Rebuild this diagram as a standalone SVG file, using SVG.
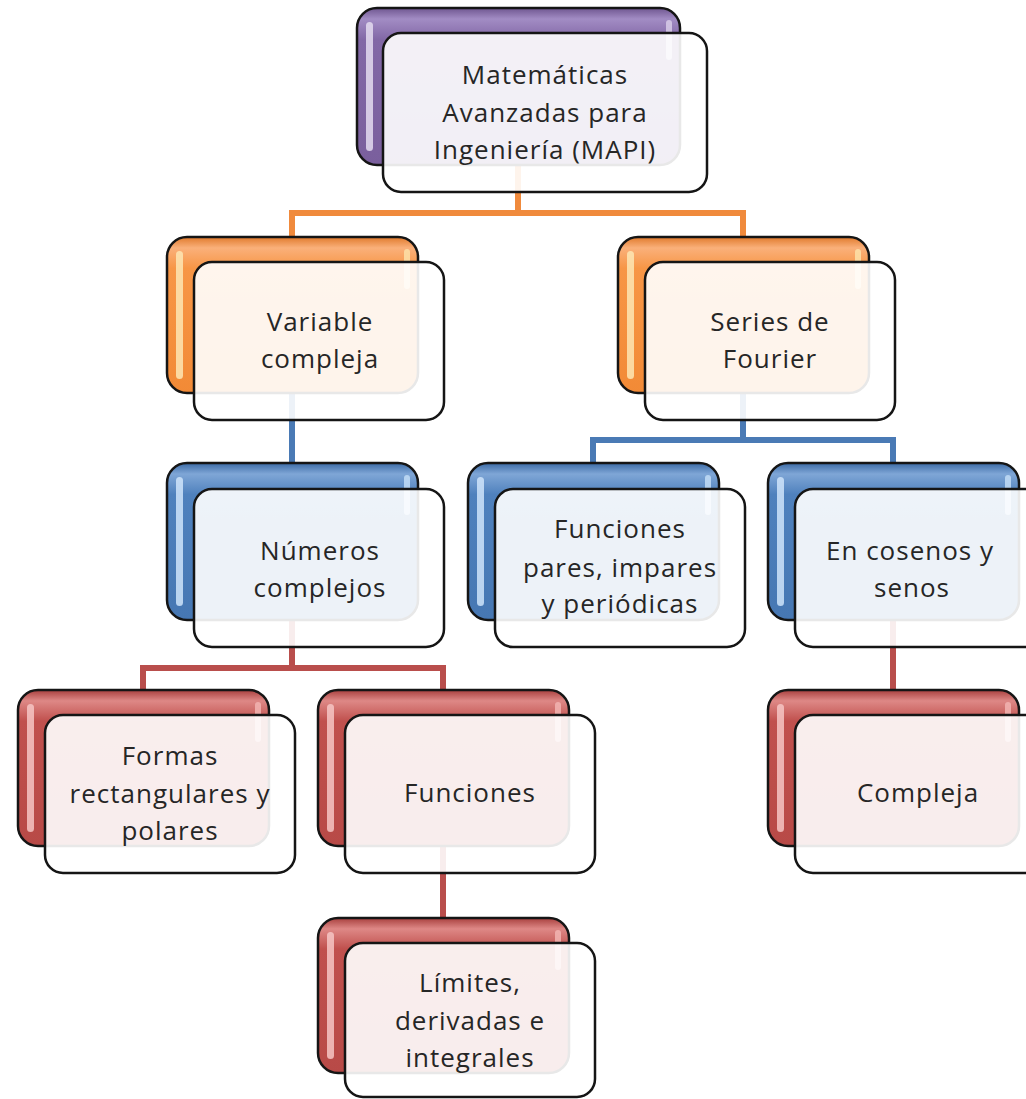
<svg xmlns="http://www.w3.org/2000/svg" width="1026" height="1099" viewBox="0 0 1026 1099">
<defs>
<linearGradient id="gPurple" x1="0" y1="0" x2="0" y2="1">
<stop offset="0" stop-color="#6f5690"/><stop offset="0.07" stop-color="#a28cc4"/><stop offset="0.2" stop-color="#8268a6"/><stop offset="1" stop-color="#7a5f9d"/>
</linearGradient>
<linearGradient id="gOrange" x1="0" y1="0" x2="0" y2="1">
<stop offset="0" stop-color="#e07a2c"/><stop offset="0.07" stop-color="#fab07a"/><stop offset="0.2" stop-color="#f79646"/><stop offset="1" stop-color="#f28a36"/>
</linearGradient>
<linearGradient id="gBlue" x1="0" y1="0" x2="0" y2="1">
<stop offset="0" stop-color="#3b6aa5"/><stop offset="0.07" stop-color="#7fa6d6"/><stop offset="0.2" stop-color="#4f81bd"/><stop offset="1" stop-color="#4677b3"/>
</linearGradient>
<linearGradient id="gRed" x1="0" y1="0" x2="0" y2="1">
<stop offset="0" stop-color="#a8403e"/><stop offset="0.07" stop-color="#de8886"/><stop offset="0.2" stop-color="#c0504d"/><stop offset="1" stop-color="#b84a47"/>
</linearGradient>
<style>
.back{stroke:#151515;stroke-width:2.5}
.front{fill:#ffffff;fill-opacity:0.9;stroke:#151515;stroke-width:2.5}
.hl{opacity:0.85}
.t{font-family:"Open Sans","Liberation Sans",sans-serif;font-size:26px;fill:#262626;text-anchor:middle;letter-spacing:1px}
.c{fill:none;stroke-width:6;stroke-linejoin:miter}
.co{stroke:#f08a3c}
.cb{stroke:#4a7ab5}
.cr{stroke:#b94e4c}
</style>
</defs>

<g id="connectors">
<path class="c co" d="M518,165 V213 M292,237 V213 H743 V237"/>
<path class="c cb" d="M292,393 V463 M743,393 V440 M593,463 V440 H893 V463"/>
<path class="c cr" d="M292,620 V668 M143,690 V668 H443 V690 M893,620 V690 M443,846 V918"/>
</g>

<g id="n-mapi" transform="translate(357,8)">
<rect class="back" width="323" height="157" rx="20" fill="url(#gPurple)"/>
<rect class="hl" x="9" y="14" width="7" height="129" rx="3.5" fill="#e4dcf0"/>
<rect class="hl" x="309" y="12" width="6" height="40" rx="3" fill="#d7cbe8"/>
<rect class="front" x="26" y="25" width="324" height="159" rx="18"/>
<text class="t" x="188" y="76">Matemáticas</text>
<text class="t" x="188" y="114">Avanzadas para</text>
<text class="t" x="188" y="151">Ingeniería (MAPI)</text>
</g>

<g id="n-variable" transform="translate(167,237)">
<rect class="back" width="251" height="156" rx="20" fill="url(#gOrange)"/>
<rect class="hl" x="9" y="14" width="7" height="128" rx="3.5" fill="#fde6b4"/>
<rect class="hl" x="237" y="12" width="6" height="40" rx="3" fill="#fde0a8"/>
<rect class="front" x="27" y="25" width="250" height="158" rx="18"/>
<text class="t" x="153" y="94">Variable</text>
<text class="t" x="153" y="131">compleja</text>
</g>

<g id="n-fourier" transform="translate(618,237)">
<rect class="back" width="251" height="156" rx="20" fill="url(#gOrange)"/>
<rect class="hl" x="9" y="14" width="7" height="128" rx="3.5" fill="#fde6b4"/>
<rect class="hl" x="237" y="12" width="6" height="40" rx="3" fill="#fde0a8"/>
<rect class="front" x="27" y="25" width="250" height="158" rx="18"/>
<text class="t" x="152" y="94">Series de</text>
<text class="t" x="152" y="131">Fourier</text>
</g>

<g id="n-numeros" transform="translate(167,463)">
<rect class="back" width="251" height="157" rx="20" fill="url(#gBlue)"/>
<rect class="hl" x="9" y="14" width="7" height="129" rx="3.5" fill="#cfe4fa"/>
<rect class="hl" x="237" y="12" width="6" height="40" rx="3" fill="#c2dcf6"/>
<rect class="front" x="27" y="26" width="250" height="158" rx="18"/>
<text class="t" x="153" y="97">Números</text>
<text class="t" x="153" y="134">complejos</text>
</g>

<g id="n-pares" transform="translate(468,463)">
<rect class="back" width="251" height="157" rx="20" fill="url(#gBlue)"/>
<rect class="hl" x="9" y="14" width="7" height="129" rx="3.5" fill="#cfe4fa"/>
<rect class="hl" x="237" y="12" width="6" height="40" rx="3" fill="#c2dcf6"/>
<rect class="front" x="27" y="26" width="250" height="158" rx="18"/>
<text class="t" x="152" y="75">Funciones</text>
<text class="t" x="152" y="114">pares, impares</text>
<text class="t" x="152" y="150">y periódicas</text>
</g>

<g id="n-cosenos" transform="translate(768,463)">
<rect class="back" width="251" height="157" rx="20" fill="url(#gBlue)"/>
<rect class="hl" x="9" y="14" width="7" height="129" rx="3.5" fill="#cfe4fa"/>
<rect class="hl" x="237" y="12" width="6" height="40" rx="3" fill="#c2dcf6"/>
<rect class="front" x="27" y="26" width="250" height="158" rx="18"/>
<text class="t" x="142" y="97">En cosenos y</text>
<text class="t" x="144" y="134">senos</text>
</g>

<g id="n-formas" transform="translate(18,690)">
<rect class="back" width="251" height="156" rx="20" fill="url(#gRed)"/>
<rect class="hl" x="9" y="14" width="7" height="128" rx="3.5" fill="#f6c6c4"/>
<rect class="hl" x="237" y="12" width="6" height="40" rx="3" fill="#f2b4b2"/>
<rect class="front" x="27" y="25" width="250" height="158" rx="18"/>
<text class="t" x="152" y="75">Formas</text>
<text class="t" x="152" y="113">rectangulares y</text>
<text class="t" x="152" y="150">polares</text>
</g>

<g id="n-funciones" transform="translate(318,690)">
<rect class="back" width="251" height="156" rx="20" fill="url(#gRed)"/>
<rect class="hl" x="9" y="14" width="7" height="128" rx="3.5" fill="#f6c6c4"/>
<rect class="hl" x="237" y="12" width="6" height="40" rx="3" fill="#f2b4b2"/>
<rect class="front" x="27" y="25" width="250" height="158" rx="18"/>
<text class="t" x="152" y="112">Funciones</text>
</g>

<g id="n-compleja" transform="translate(768,690)">
<rect class="back" width="251" height="156" rx="20" fill="url(#gRed)"/>
<rect class="hl" x="9" y="14" width="7" height="128" rx="3.5" fill="#f6c6c4"/>
<rect class="hl" x="237" y="12" width="6" height="40" rx="3" fill="#f2b4b2"/>
<rect class="front" x="27" y="25" width="250" height="158" rx="18"/>
<text class="t" x="150" y="112">Compleja</text>
</g>

<g id="n-limites" transform="translate(318,918)">
<rect class="back" width="251" height="155" rx="20" fill="url(#gRed)"/>
<rect class="hl" x="9" y="14" width="7" height="127" rx="3.5" fill="#f6c6c4"/>
<rect class="hl" x="237" y="12" width="6" height="40" rx="3" fill="#f2b4b2"/>
<rect class="front" x="27" y="25" width="250" height="154" rx="18"/>
<text class="t" x="152" y="74">Límites,</text>
<text class="t" x="152" y="112">derivadas e</text>
<text class="t" x="152" y="149">integrales</text>
</g>
</svg>
